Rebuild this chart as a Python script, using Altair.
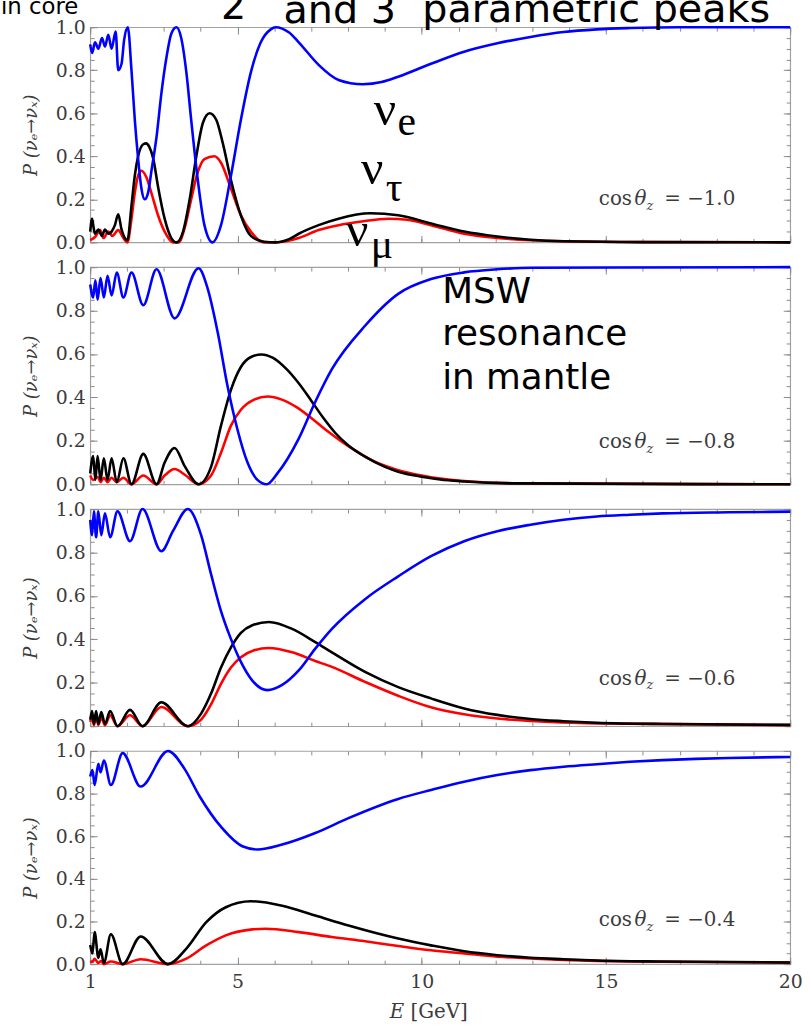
import altair as alt
import pandas as pd

# P(nu_e -> nu_x) versus neutrino energy E [GeV], one set of curves per zenith angle.
# Each list holds [E, P] samples; blue = nu_e, black = nu_tau, red = nu_mu.

NUE_10 = [[1.00, 0.92], [1.05, 0.88], [1.13, 0.93], [1.22, 0.90], [1.32, 0.95], [1.40, 0.91],
          [1.49, 0.965], [1.58, 0.90], [1.69, 0.98], [1.76, 0.80], [1.85, 0.83], [1.92, 0.94],
          [2.02, 1.00], [2.12, 0.80], [2.21, 0.57], [2.30, 0.39], [2.39, 0.25], [2.48, 0.20],
          [2.57, 0.23], [2.66, 0.33], [2.80, 0.49], [2.93, 0.69], [3.07, 0.86], [3.20, 0.97],
          [3.34, 1.00], [3.47, 0.95], [3.61, 0.79], [3.74, 0.57], [3.92, 0.29], [4.10, 0.08],
          [4.32, 0.00], [4.55, 0.08], [4.82, 0.31], [5.09, 0.57], [5.36, 0.79], [5.63, 0.93],
          [5.90, 0.99], [6.03, 1.00], [6.40, 0.975], [6.66, 0.93], [7.20, 0.825], [7.74, 0.755],
          [8.40, 0.735], [8.91, 0.745], [9.36, 0.77], [10.25, 0.83], [11.15, 0.886], [12.05, 0.925],
          [12.95, 0.955], [13.85, 0.978], [14.75, 0.99], [15.65, 0.996], [17.0, 1.0], [20.0, 1.0]]
NUTAU_10 = [[1.00, 0.05], [1.05, 0.11], [1.09, 0.07], [1.13, 0.04], [1.22, 0.06], [1.32, 0.03],
            [1.40, 0.06], [1.49, 0.04], [1.58, 0.05], [1.67, 0.08], [1.76, 0.13], [1.85, 0.06],
            [2.01, 0.01], [2.12, 0.17], [2.21, 0.31], [2.30, 0.40], [2.44, 0.456], [2.52, 0.46],
            [2.60, 0.445], [2.71, 0.39], [2.84, 0.26], [3.02, 0.11], [3.20, 0.02], [3.34, 0.00],
            [3.52, 0.05], [3.70, 0.20], [3.88, 0.40], [4.06, 0.556], [4.24, 0.60], [4.42, 0.57],
            [4.60, 0.46], [4.82, 0.29], [5.09, 0.125], [5.36, 0.03], [5.72, 0.003], [6.04, 0.00],
            [6.40, 0.015], [6.66, 0.04], [7.20, 0.08], [7.74, 0.11], [8.60, 0.135], [9.36, 0.126],
            [10.25, 0.088], [11.15, 0.05], [12.05, 0.027], [12.95, 0.012], [13.85, 0.005],
            [16.0, 0.001], [20.0, 0.0]]
NUMU_10 = [[1.00, 0.01], [1.13, 0.025], [1.27, 0.057], [1.36, 0.02], [1.49, 0.05], [1.60, 0.03],
           [1.76, 0.057], [1.90, 0.02], [2.01, 0.0], [2.12, 0.11], [2.21, 0.23], [2.30, 0.31],
           [2.39, 0.333], [2.53, 0.30], [2.66, 0.23], [2.84, 0.126], [3.02, 0.05], [3.25, 0.0],
           [3.40, 0.0], [3.56, 0.065], [3.74, 0.20], [3.92, 0.326], [4.10, 0.387], [4.37, 0.40],
           [4.55, 0.37], [4.82, 0.25], [5.09, 0.126], [5.36, 0.05], [5.72, 0.0], [6.04, 0.0],
           [6.66, 0.02], [7.20, 0.057], [7.74, 0.08], [8.36, 0.097], [9.10, 0.11], [9.60, 0.105],
           [10.25, 0.08], [11.15, 0.04], [12.05, 0.02], [12.95, 0.01], [13.85, 0.005],
           [16.0, 0.001], [20.0, 0.0]]

NUE_08 = [[1.00, 0.92], [1.08, 0.86], [1.14, 0.94], [1.20, 0.85], [1.28, 0.95], [1.37, 0.86],
          [1.47, 0.96], [1.58, 0.87], [1.72, 0.975], [1.90, 0.86], [2.12, 0.975], [2.44, 0.825],
          [2.80, 0.99], [3.29, 0.764], [3.94, 0.995], [4.19, 0.90], [4.46, 0.70], [4.73, 0.45],
          [5.00, 0.25], [5.27, 0.10], [5.54, 0.02], [5.79, 0.0], [6.08, 0.05], [6.66, 0.21],
          [7.11, 0.38], [7.56, 0.53], [8.46, 0.73], [9.36, 0.877], [10.25, 0.945], [11.15, 0.976],
          [12.05, 0.99], [13.0, 0.997], [20.0, 1.0]]
NUTAU_08 = [[1.00, 0.05], [1.08, 0.13], [1.14, 0.02], [1.20, 0.13], [1.28, 0.02], [1.37, 0.12],
            [1.47, 0.02], [1.58, 0.12], [1.72, 0.01], [1.90, 0.12], [2.12, 0.0], [2.44, 0.14],
            [2.80, 0.0], [3.02, 0.10], [3.29, 0.167], [3.56, 0.085], [3.94, 0.0], [4.28, 0.08],
            [4.55, 0.27], [4.82, 0.435], [5.09, 0.54], [5.35, 0.585], [5.65, 0.598], [5.95, 0.583],
            [6.33, 0.53], [6.66, 0.465], [7.00, 0.385], [7.33, 0.305], [7.66, 0.235], [8.00, 0.18],
            [8.46, 0.127], [9.00, 0.08], [9.36, 0.058], [10.00, 0.035], [10.50, 0.022],
            [11.15, 0.013], [12.5, 0.004], [20.0, 0.0]]
NUMU_08 = [[1.00, 0.04], [1.08, 0.02], [1.20, 0.035], [1.28, 0.01], [1.37, 0.03], [1.47, 0.01],
           [1.58, 0.03], [1.72, 0.01], [1.90, 0.03], [2.12, 0.0], [2.44, 0.04], [2.80, 0.0],
           [3.02, 0.04], [3.29, 0.07], [3.56, 0.045], [3.94, 0.0], [4.28, 0.04], [4.55, 0.145],
           [4.82, 0.27], [5.09, 0.343], [5.45, 0.39], [5.82, 0.404], [6.20, 0.39], [6.60, 0.355],
           [7.00, 0.305], [7.40, 0.25], [7.80, 0.20], [8.20, 0.155], [8.60, 0.115], [9.00, 0.085],
           [9.36, 0.065], [10.00, 0.04], [10.50, 0.026], [11.15, 0.015], [12.5, 0.005], [20.0, 0.0]]

NUE_06 = [[1.00, 0.95], [1.05, 0.88], [1.10, 0.99], [1.16, 0.87], [1.22, 0.99], [1.30, 0.88],
          [1.40, 0.98], [1.54, 0.87], [1.74, 0.99], [2.08, 0.852], [2.42, 1.0], [2.93, 0.806],
          [3.25, 0.90], [3.65, 1.0], [4.01, 0.88], [4.28, 0.70], [4.55, 0.53], [4.80, 0.41],
          [5.05, 0.31], [5.40, 0.21], [5.81, 0.166], [6.21, 0.19], [6.66, 0.257], [7.11, 0.357],
          [7.56, 0.448], [8.46, 0.585], [9.36, 0.69], [10.25, 0.783], [11.15, 0.852], [12.05, 0.898],
          [12.95, 0.928], [13.85, 0.951], [14.75, 0.966], [15.65, 0.974], [16.54, 0.98],
          [18.34, 0.985], [20.0, 0.988]]
NUTAU_06 = [[1.00, 0.03], [1.05, 0.07], [1.10, 0.01], [1.16, 0.07], [1.22, 0.01], [1.30, 0.065],
            [1.40, 0.01], [1.54, 0.07], [1.74, 0.0], [2.08, 0.075], [2.42, 0.0], [2.93, 0.11],
            [3.65, 0.0], [4.01, 0.058], [4.28, 0.15], [4.55, 0.27], [4.82, 0.363], [5.09, 0.43],
            [5.40, 0.465], [5.85, 0.48], [6.48, 0.448], [7.11, 0.387], [7.56, 0.34], [8.46, 0.25],
            [9.36, 0.18], [10.25, 0.128], [11.15, 0.082], [12.05, 0.052], [12.95, 0.033],
            [13.85, 0.023], [14.75, 0.016], [16.54, 0.01], [20.0, 0.006]]
NUMU_06 = [[1.00, 0.02], [1.05, 0.04], [1.10, 0.005], [1.16, 0.045], [1.22, 0.005], [1.30, 0.04],
           [1.40, 0.005], [1.54, 0.05], [1.74, 0.0], [2.08, 0.05], [2.42, 0.0], [2.93, 0.088],
           [3.65, 0.0], [4.01, 0.03], [4.28, 0.10], [4.55, 0.195], [4.82, 0.27], [5.09, 0.317],
           [5.45, 0.35], [5.85, 0.36], [6.48, 0.34], [7.11, 0.30], [7.56, 0.273], [8.46, 0.204],
           [9.36, 0.14], [10.25, 0.087], [11.15, 0.055], [12.05, 0.035], [12.95, 0.024],
           [14.75, 0.013], [20.0, 0.005]]

NUE_04 = [[1.00, 0.88], [1.06, 0.91], [1.12, 0.84], [1.22, 0.94], [1.28, 0.90], [1.37, 0.955],
          [1.56, 0.84], [1.88, 0.99], [2.37, 0.833], [3.11, 1.0], [3.56, 0.916], [3.96, 0.79],
          [4.57, 0.64], [5.13, 0.553], [5.54, 0.538], [6.21, 0.561], [7.11, 0.615], [8.01, 0.685],
          [9.36, 0.775], [10.25, 0.817], [11.15, 0.856], [12.05, 0.887], [12.95, 0.91],
          [13.85, 0.926], [14.75, 0.938], [15.65, 0.949], [16.54, 0.957], [17.44, 0.963],
          [18.34, 0.967], [20.0, 0.972]]
NUTAU_04 = [[1.00, 0.09], [1.06, 0.05], [1.12, 0.15], [1.22, 0.03], [1.28, 0.07], [1.37, 0.005],
            [1.56, 0.14], [1.88, 0.0], [2.37, 0.13], [3.11, 0.0], [3.61, 0.073], [4.15, 0.197],
            [4.68, 0.267], [5.36, 0.295], [6.21, 0.274], [7.11, 0.228], [8.01, 0.181], [9.36, 0.12],
            [10.25, 0.088], [11.15, 0.06], [12.05, 0.042], [12.95, 0.03], [13.85, 0.023],
            [14.75, 0.017], [16.54, 0.012], [20.0, 0.008]]
NUMU_04 = [[1.00, 0.015], [1.06, 0.01], [1.12, 0.025], [1.22, 0.005], [1.30, 0.015], [1.37, 0.0],
           [1.56, 0.012], [1.88, 0.0], [2.37, 0.023], [3.11, 0.0], [3.61, 0.026], [4.15, 0.088],
           [4.68, 0.135], [5.40, 0.163], [5.76, 0.166], [6.66, 0.15], [7.56, 0.127], [8.46, 0.107],
           [9.36, 0.085], [10.25, 0.065], [11.15, 0.05], [12.05, 0.035], [12.95, 0.027],
           [13.85, 0.02], [15.65, 0.012], [20.0, 0.007]]

COS_VALUES = ["−1.0", "−0.8", "−0.6", "−0.4"]
X_MAJOR = [1, 5, 10, 15, 20]
X_MINOR = list(range(1, 21))
Y_MAJOR = [0.0, 0.2, 0.4, 0.6, 0.8, 1.0]
Y_MINOR = [i / 20 for i in range(21)]

WIDTH = 706
HEIGHTS = [217, 219, 219, 215]
LABEL_BASE = [179, 182, 177, 177]

BLUE, BLACK, RED = "#0000ff", "#000000", "#ff0000"
FRAME = "#a2a2a2"
TICK = "#8c8c8c"
INK = "#3c3c3c"
SERIF = "DejaVu Serif"
GREEK = "Liberation Serif"
HAND = "DejaVu Sans"

X_SCALE = alt.Scale(domain=[1, 20], nice=False, zero=False)
Y_SCALE = alt.Scale(domain=[0, 1], nice=False, zero=False)


def frame_of(points):
    return pd.DataFrame(points, columns=["E", "P"])


def note(text, x, y, size, font, style="normal", color="black", align="left"):
    return alt.Chart(pd.DataFrame({"t": [text]})).mark_text(
        align=align, baseline="alphabetic", font=font, fontSize=size,
        fontStyle=style, color=color,
    ).encode(text="t:N", x=alt.value(x), y=alt.value(y))


def tick_axis(orient, values, size, offset):
    # ticks drawn on the inside of the frame
    return alt.Axis(orient=orient, values=values, tickSize=size, offset=offset,
                    labels=False, domain=False, grid=False, ticks=True,
                    tickColor=TICK, tickWidth=1)


def panel(i, numu, nutau, nue, extras):
    h = HEIGHTS[i]
    last = i == len(HEIGHTS) - 1
    if last:
        x_axis = alt.Axis(orient="bottom", values=X_MAJOR, format="d", ticks=False, tickSize=0,
                          domain=False, grid=False, labelFlush=False, labelFont=SERIF,
                          labelFontSize=19, labelColor=INK, labelPadding=9, title=None)
    else:
        x_axis = None
    y_axis = alt.Axis(orient="left", values=Y_MAJOR, format=".1f", ticks=False, tickSize=0,
                      domain=False, grid=False, labelFont=SERIF, labelFontSize=19,
                      labelColor=INK, labelPadding=5,
                      title="P (νₑ→νₓ)", titleFont=SERIF, titleFontSize=18,
                      titleFontStyle="italic", titleFontWeight="normal", titleColor=INK,
                      titlePadding=15)

    layers = []
    for k, (pts, color) in enumerate([(numu, RED), (nutau, BLACK), (nue, BLUE)]):
        layers.append(
            alt.Chart(frame_of(pts)).mark_line(color=color, strokeWidth=2.6, interpolate="monotone")
            .encode(x=alt.X("E:Q", scale=X_SCALE, axis=x_axis if k == 0 else None),
                    y=alt.Y("P:Q", scale=Y_SCALE, axis=y_axis if k == 0 else None))
        )

    edge = frame_of(nue)
    for x_orient, y_orient in [("top", "right"), ("bottom", "left")]:
        for xv, yv, size in [(X_MINOR, Y_MINOR, 4), (X_MAJOR, Y_MAJOR, 7)]:
            layers.append(
                alt.Chart(edge).mark_line(strokeOpacity=0).encode(
                    x=alt.X("E:Q", scale=X_SCALE, title=None,
                            axis=tick_axis(x_orient, xv, size, -h)),
                    y=alt.Y("P:Q", scale=Y_SCALE, title=None,
                            axis=tick_axis(y_orient, yv, size, -WIDTH)))
            )

    base = LABEL_BASE[i]
    layers += [
        note("cos", 513, base, 20, SERIF, color=INK),
        note("θ", 549, base, 20, SERIF, style="italic", color=INK),
        note("z", 561, base + 5, 13, SERIF, style="italic", color=INK),
        note("= " + COS_VALUES[i], 579, base, 20, SERIF, color=INK),
    ]
    if last:
        # x-axis title with an italic E
        layers += [
            note("E", 302, h + 54, 20, SERIF, style="italic", color=INK),
            note("[GeV]", 323, h + 54, 20, SERIF, color=INK),
        ]
    layers += extras
    return (alt.layer(*layers)
            .properties(width=WIDTH, height=h)
            .resolve_axis(x="independent", y="independent"))


# A transparent rule marks the upper edge of the drawing; the page starts 38 px below it,
# so the top row of headline text is trimmed by the page edge.
page_edge = alt.Chart(pd.DataFrame({"t": [0]})).mark_rule(strokeOpacity=0, strokeWidth=1).encode(
    x=alt.value(0), x2=alt.value(10), y=alt.value(-60), y2=alt.value(-60))

top_notes = [
    page_edge,
    note("in core", -90, -13.5, 23, HAND),
    note("2", 132, -8.5, 40, HAND),
    note("nd", 154, -31, 22, HAND),
    note("and 3", 195, -4.5, 40, HAND),
    note("rd", 308, -31, 22, HAND),
    note("parametric peaks", 335, -5, 40, HAND),
    note("ν", 286, 99, 50, GREEK),
    note("e", 310, 109, 42, GREEK),
    note("ν", 273, 158, 50, GREEK),
    note("τ", 298, 175, 42, GREEK),
    note("ν", 258, 220.5, 50, GREEK),
    note("μ", 283, 232.5, 42, GREEK),
]
msw_notes = [
    note("MSW", 355, 36, 36, HAND),
    note("resonance", 355, 79, 36, HAND),
    note("in mantle", 355, 123, 36, HAND),
]

chart = alt.vconcat(
    panel(0, NUMU_10, NUTAU_10, NUE_10, top_notes),
    panel(1, NUMU_08, NUTAU_08, NUE_08, msw_notes),
    panel(2, NUMU_06, NUTAU_06, NUE_06, []),
    panel(3, NUMU_04, NUTAU_04, NUE_04, []),
    spacing=25,
    bounds="flush",
).properties(
    padding={"top": -38, "left": 0, "right": 8, "bottom": 4},
).configure_view(stroke=FRAME, strokeWidth=1.2)

chart.save("out.html", embed_options={"renderer": "svg", "actions": False})
